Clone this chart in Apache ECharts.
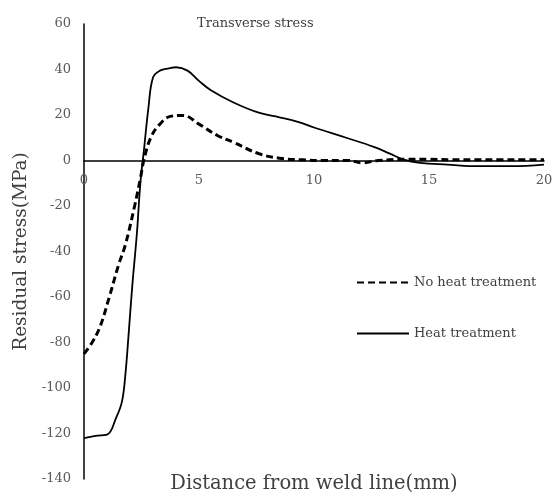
<!DOCTYPE html>
<html>
<head>
<meta charset="utf-8">
<script src="https://cdn.jsdelivr.net/npm/echarts@6/dist/echarts.min.js"></script>
<style>
  html, body { margin: 0; padding: 0; background: #fff; }
  #chart { width: 557px; height: 498px; }
</style>
</head>
<body>
<div id="chart"></div>
<script>
// 残余应力 - 横向
var distNoHeat = [0, 0.35, 0.7, 1.1, 1.5, 1.8, 2.2, 2.45, 2.6, 2.9, 3.3, 3.8, 4.3, 5.0, 5.8, 6.5, 7.6, 8.5, 9.5, 10.5, 11.5, 12.1, 12.8, 14, 15, 16, 17, 18, 19, 20];
var stressNoHeat = [-85, -80, -73, -60, -46, -37, -20, -8, 0, 10, 16, 19.5, 19.8, 16, 11, 8, 3, 1, 0.3, 0, 0, -1, 0, 0.5, 0.5, 0.3, 0.3, 0.3, 0.3, 0.3];

var distHeat = [0, 0.5, 1.0, 1.4, 1.65, 1.8, 1.95, 2.1, 2.3, 2.45, 2.6, 2.8, 3.0, 3.3, 3.7, 4.0, 4.5, 5.0, 5.5, 6.5, 7.6, 8.5, 9.3, 10, 11.4, 12.6, 13.3, 13.9, 14.6, 15.8, 17.2, 18.6, 20];
var stressHeat = [-122, -121, -120.5, -113, -106, -94, -75, -55, -32, -10, 4, 23, 36.5, 39.5, 40.5, 41, 39.5, 35, 31, 25.5, 21, 19, 17, 14.5, 10, 6, 3, 0.4, -1, -1.8, -2.5, -2.5, -1.8];

var seriesNames = ['No heat treatment', 'Heat treatment'];

function pairs(xs, ys) {
  var out = [];
  for (var i = 0; i < xs.length; i++) {
    out.push([xs[i], ys[i]]);
  }
  return out;
}

var fontFamily = 'DejaVu Serif';
// 横轴画在 y=0 处: 网格底部到零线的距离
var gridTop = 24, gridBottom = 19, plotHeight = 498 - gridTop - gridBottom;
var zeroOffset = plotHeight * 140 / 200;

var chart = echarts.init(document.getElementById('chart'));

chart.setOption({
  animation: false,
  backgroundColor: '#fff',
  title: {
    text: 'Transverse stress',
    left: 192,
    top: 12,
    textStyle: {
      fontFamily: fontFamily,
      fontSize: 13,
      fontWeight: 'normal',
      color: '#404040'
    }
  },
  legend: {
    orient: 'vertical',
    left: 351,
    top: 271,
    itemWidth: 52,
    itemHeight: 14,
    itemGap: 38,
    data: seriesNames,
    itemStyle: { opacity: 0 },
    textStyle: {
      fontFamily: fontFamily,
      fontSize: 13,
      color: '#404040'
    }
  },
  grid: {
    left: 84,
    right: 13,
    top: gridTop,
    bottom: gridBottom,
    outerBoundsMode: 'none'
  },
  xAxis: {
    type: 'value',
    min: 0,
    max: 20,
    interval: 5,
    position: 'bottom',
    offset: -zeroOffset,
    name: 'Distance from weld line(mm)',
    nameLocation: 'middle',
    nameGap: zeroOffset - 5,
    nameTextStyle: {
      fontFamily: fontFamily,
      fontSize: 19.5,
      color: '#404040'
    },
    axisLine: {
      onZero: false,
      lineStyle: { color: '#000', width: 1.5 }
    },
    axisTick: { show: false },
    splitLine: { show: false },
    axisLabel: {
      margin: 14,
      fontFamily: fontFamily,
      fontSize: 13,
      color: '#595959'
    }
  },
  yAxis: {
    type: 'value',
    min: -140,
    max: 60,
    interval: 20,
    name: 'Residual stress(MPa)',
    nameLocation: 'middle',
    nameGap: 43,
    nameTextStyle: {
      fontFamily: fontFamily,
      fontSize: 18.5,
      color: '#404040'
    },
    axisLine: {
      show: true,
      onZero: false,
      lineStyle: { color: '#000', width: 1.5 }
    },
    axisTick: { show: false },
    splitLine: { show: false },
    axisLabel: {
      margin: 13,
      fontFamily: fontFamily,
      fontSize: 13,
      color: '#595959'
    }
  },
  series: [
    {
      name: seriesNames[0],
      type: 'line',
      smooth: 0.4,
      symbol: 'none',
      data: pairs(distNoHeat, stressNoHeat),
      lineStyle: { color: '#000', width: 3, type: [7, 4] },
      itemStyle: { color: '#000' }
    },
    {
      name: seriesNames[1],
      type: 'line',
      smooth: 0.4,
      symbol: 'none',
      data: pairs(distHeat, stressHeat),
      lineStyle: { color: '#000', width: 1.8 },
      itemStyle: { color: '#000' }
    }
  ]
});
</script>
</body>
</html>
